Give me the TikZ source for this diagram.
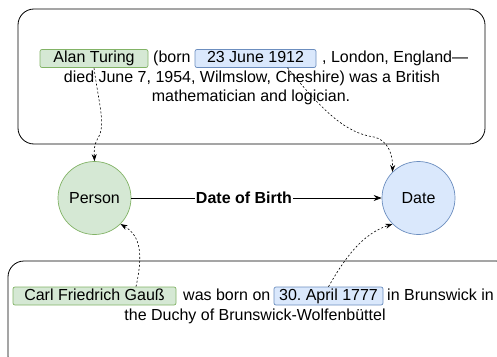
\documentclass[tikz,border=0pt]{standalone}
\usepackage{fontspec}
\setmainfont{Liberation Sans}
\usetikzlibrary{arrows.meta}
\frenchspacing
\definecolor{greenfill}{HTML}{D5E8D4}
\definecolor{greenline}{HTML}{82B366}
\definecolor{bluefill}{HTML}{DAE8FC}
\definecolor{blueline}{HTML}{6C8EBF}
\tikzset{
    entity/.style={draw=greenline, fill=greenfill, rounded corners=2pt, line width=0.7pt,
            inner xsep=0pt, inner ysep=1.5pt, text height=11.5pt, text depth=3.5pt, anchor=base},
    datebox/.style={entity, draw=blueline, fill=bluefill},
    plaintext/.style={inner sep=0pt, anchor=base west},
    class/.style={circle, draw=#1line, fill=#1fill, line width=0.7pt, minimum size=73pt, inner sep=0pt},
    frame/.style={rounded corners=16pt, line width=0.8pt},
    link/.style={-{Stealth[length=7pt,width=5pt]}, dash pattern=on 2pt off 2pt, line width=0.6pt},
}

\begin{document}
\begin{tikzpicture}[x=1pt, y=-1pt, font=\fontsize{16}{19.5}\selectfont]
        \useasboundingbox (0, 0) rectangle (497, 356);
        \clip (0, 0) rectangle (497, 356);
        %text frames
        \draw[frame] (18, 9) rectangle (485, 144);
        \draw[frame] (8, 261) rectangle (512, 372);
        %first sentence
        \node[entity, minimum width=108pt] (turing) at (94, 62.5) {Alan Turing};
        \node[plaintext] (born) at (153, 62.5) {(born};
        \node[datebox, minimum width=121pt] (turingdate) at (255.5, 62.5) {23 June 1912};
        \node[plaintext] (london) at (322, 62.5) {, London, England—};
        \node[anchor=base, inner sep=0pt] (died) at (252, 82) {died June 7, 1954, Wilmslow, Cheshire) was a British};
        \node[anchor=base, inner sep=0pt] (logician) at (251, 101.5) {mathematician and logician.};
        %second sentence
        \node[entity, minimum width=163pt] (gauss) at (94.5, 300) {Carl Friedrich Gauß};
        \node[plaintext] (wasborn) at (183, 300) {was born on};
        \node[datebox, minimum width=109pt] (gaussdate) at (328.5, 300) {30. April 1777};
        \node[plaintext] (brunswick) at (387, 300) {in Brunswick in};
        \node[anchor=base, inner sep=0pt] (duchy) at (255, 320) {the Duchy of Brunswick-Wolfenbüttel};
        %classes and relation
        \node[class=green] (person) at (94.5, 198) {Person};
        \node[class=blue] (date) at (418.5, 198) {Date};
        \draw[-{Stealth[length=8pt,width=6pt]}, line width=0.7pt] (person) -- node[pos=0.45, fill=white, inner sep=1pt] {\textbf{Date of Birth}} (date);
        %mentions to classes
        \draw[link] (turing.south) .. controls (99, 105) and (106, 125) .. (98, 138) .. controls (94, 145) and (94, 150) .. (person.north);
        \draw[link] ([xshift=32pt]turingdate.south) .. controls (322, 110) and (345, 133) .. (374, 137) .. controls (388, 140) and (393, 155) .. (date.135);
        \draw[link] ([xshift=41.5pt]gauss.north) .. controls (143, 255) and (141, 236) .. (person.-45);
        \draw[link] (gaussdate.north) .. controls (345, 258) and (362, 234) .. (date.-135);
    \end{tikzpicture}
\end{document}
